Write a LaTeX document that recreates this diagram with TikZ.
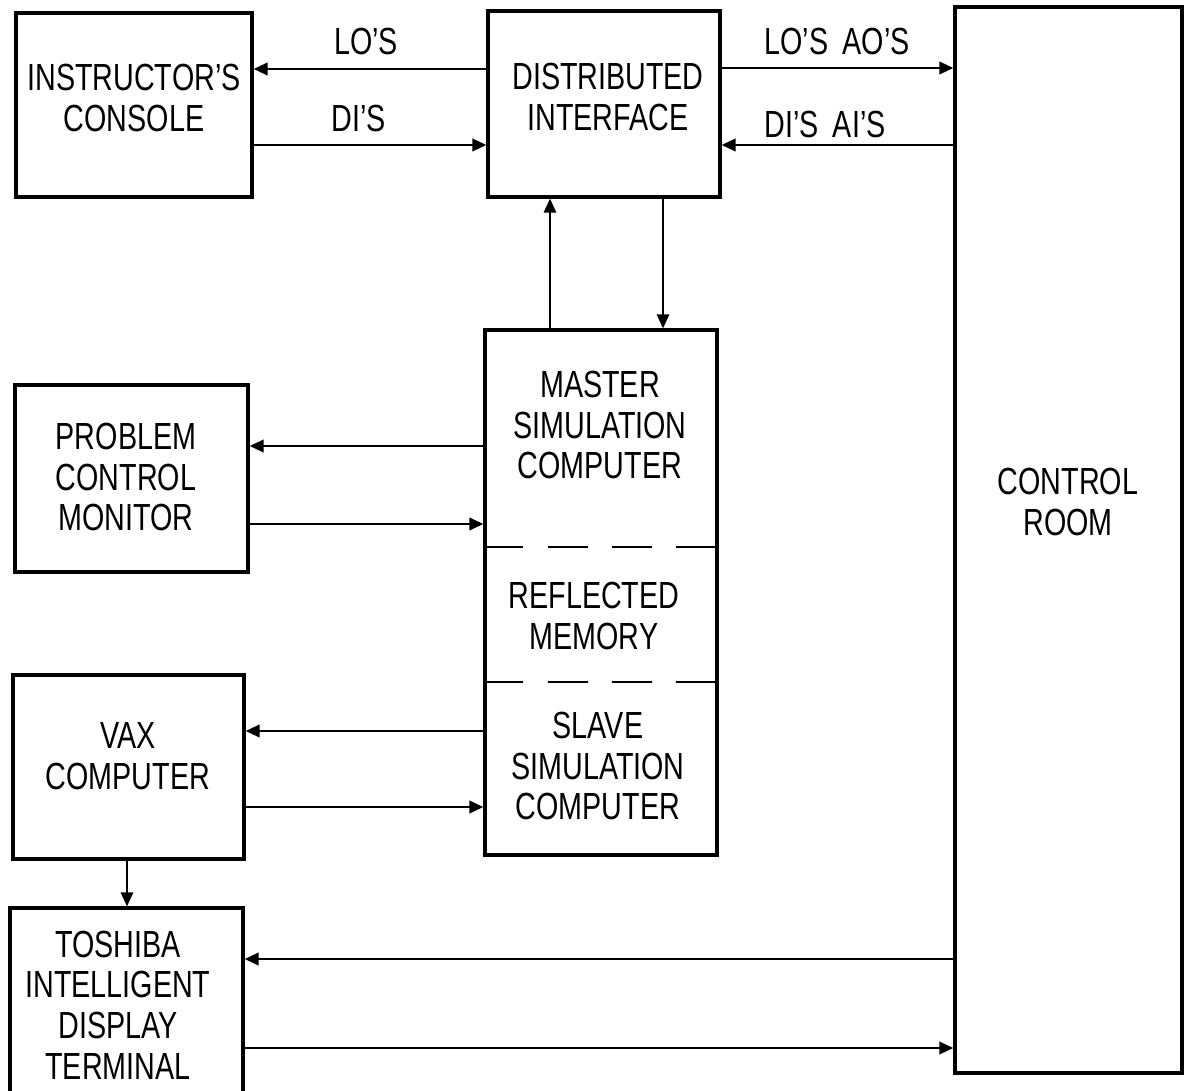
\documentclass[tikz,border=0pt]{standalone}
\usepackage{fontspec}
\setmainfont{Liberation Sans}[FakeStretch=0.76]
\usetikzlibrary{arrows.meta}
\def\PX{0.02cm}
\begin{document}
\begin{tikzpicture}[x=0.02cm,y=-0.02cm,
  box/.style={draw, line width=1.8pt, rectangle, inner sep=0pt},
  lbl/.style={align=center, font=\fontsize{21.5}{23.2}\selectfont, inner sep=0pt},
  arr/.style={line width=1.6pt, -{Triangle[length=8pt,width=7pt]}},
  thinarr/.style={line width=1.2pt, -{Triangle[length=8pt,width=7pt]}},
  dashline/.style={line width=1.6pt, dash pattern=on 22.8pt off 13.7pt}]
\path[use as bounding box, fill=white] (0,0) rectangle (1184,1091);

% boxes
\node[box, minimum width=236*\PX, minimum height=184*\PX] (ic) at (134,105) {};
\node[box, minimum width=232*\PX, minimum height=186*\PX] (di) at (604,104) {};
\node[box, minimum width=227*\PX, minimum height=1066*\PX] (cr) at (1068.5,540) {};
\node[box, minimum width=232*\PX, minimum height=525*\PX] (ms) at (601,592.5) {};
\node[box, minimum width=233*\PX, minimum height=187*\PX] (pcm) at (131.5,478.5) {};
\node[box, minimum width=231*\PX, minimum height=184*\PX] (vax) at (128.5,767) {};
\node[box, minimum width=233*\PX, minimum height=190*\PX] (tosh) at (126.5,1003) {};

% dashed separators
\draw[dashline] (ms.west |- 0,547) -- (ms.east |- 0,547);
\draw[dashline] (ms.west |- 0,682) -- (ms.east |- 0,682);

% texts
\node[lbl] (tic) at (134,98) {INSTRUCTOR'S\\CONSOLE};
\node[lbl] (tdi) at (608,97) {DISTRIBUTED\\INTERFACE};
\node[lbl] (tcr) at (1068,502) {CONTROL\\ROOM};
\node[lbl] (tms) at (600,425) {MASTER\\SIMULATION\\COMPUTER};
\node[lbl] (trm) at (594,616) {REFLECTED\\MEMORY};
\node[lbl] (tss) at (598,766) {SLAVE\\SIMULATION\\COMPUTER};
\node[lbl] (tpcm) at (126,477) {PROBLEM\\CONTROL\\MONITOR};
\node[lbl] (tvax) at (128,756) {VAX\\COMPUTER};
\node[lbl] (ttosh) at (118,1005) {TOSHIBA\\INTELLIGENT\\DISPLAY\\TERMINAL};
\node[lbl] (lo1) at (366,41) {LO'S};
\node[lbl] (di1) at (359,118) {DI'S};
\node[lbl] (lo2) at (837,41) {LO'S\, AO'S};
\node[lbl] (di2) at (825,124) {DI'S\, AI'S};

% connectors
\draw[arr] (di.west |- 0,69) -- (ic.east |- 0,69);
\draw[arr] (ic.east |- 0,145) -- (di.west |- 0,145);
\draw[arr] (di.east |- 0,68) -- (cr.west |- 0,68);
\draw[arr] (cr.west |- 0,145) -- (di.east |- 0,145);
\draw[thinarr] (ms.north -| 550,0) -- (di.south -| 550,0);
\draw[thinarr] (di.south -| 663,0) -- (ms.north -| 663,0);
\draw[arr] (ms.west |- 0,446) -- (pcm.east |- 0,446);
\draw[arr] (pcm.east |- 0,524) -- (ms.west |- 0,524);
\draw[arr] (ms.west |- 0,731) -- (vax.east |- 0,731);
\draw[arr] (vax.east |- 0,807) -- (ms.west |- 0,807);
\draw[thinarr] (vax.south -| 127,0) -- (tosh.north -| 127,0);
\draw[arr] (cr.west |- 0,959) -- (tosh.east |- 0,959);
\draw[arr] (tosh.east |- 0,1048) -- (cr.west |- 0,1048);
\end{tikzpicture}
\end{document}
